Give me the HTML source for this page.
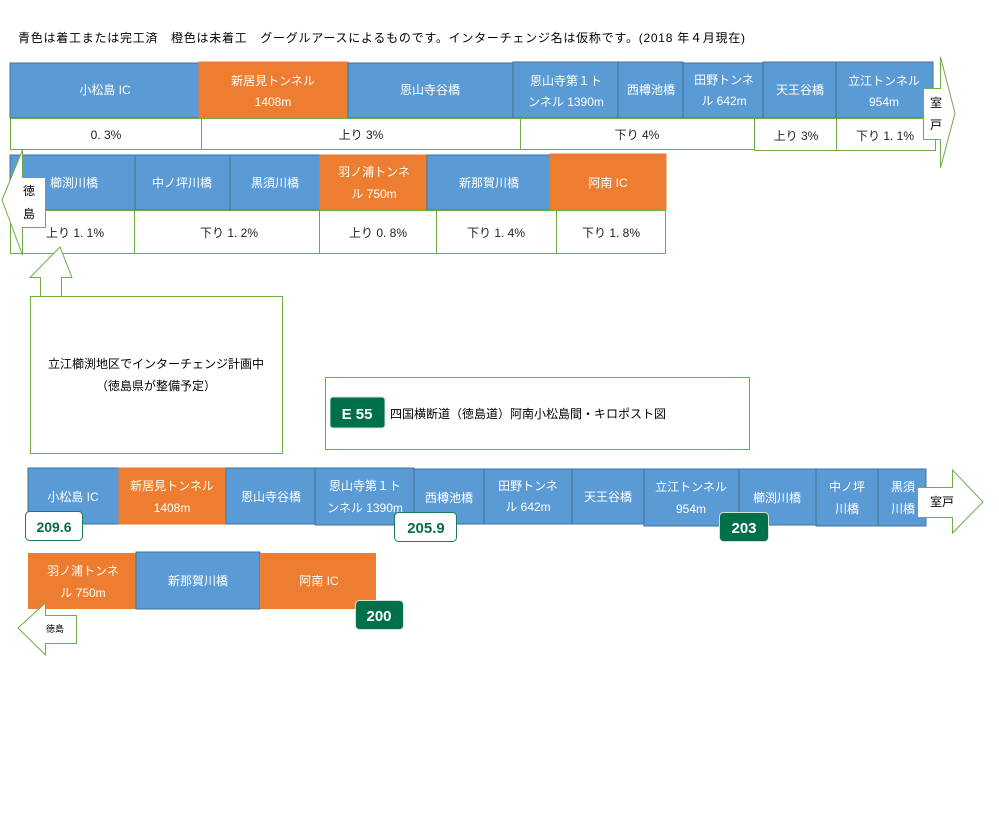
<!DOCTYPE html>
<html><head><meta charset="utf-8"><style>
html,body{margin:0;padding:0;background:#fff;width:999px;height:819px;overflow:hidden}
svg text{font-family:"Liberation Sans","Noto Sans CJK JP",sans-serif}
</style></head><body>
<svg width="999" height="819" viewBox="0 0 999 819" xmlns="http://www.w3.org/2000/svg">
<text x="18" y="42" font-size="12" fill="#000" textLength="727" lengthAdjust="spacing">青色は着工または完工済　橙色は未着工　グーグルアースによるものです。インターチェンジ名は仮称です。(2018 年４月現在)</text>

<!-- Row 1 -->
<g stroke="#41719c" stroke-width="1">
<rect x="10" y="63" width="189" height="55" fill="#5b9bd5"/>
<rect x="199" y="62" width="149" height="56" fill="#ed7d31" stroke="#ed7d31"/>
<rect x="348" y="63" width="165" height="55" fill="#5b9bd5"/>
<rect x="513" y="62" width="105" height="56" fill="#5b9bd5"/>
<rect x="618" y="62" width="65" height="56" fill="#5b9bd5"/>
<rect x="683" y="63" width="80" height="55" fill="#5b9bd5"/>
<rect x="763" y="62" width="73" height="56" fill="#5b9bd5"/>
<rect x="836" y="62" width="97" height="56" fill="#5b9bd5"/>
</g>
<g fill="#fff" font-size="12" text-anchor="middle">
<text x="105" y="94">小松島 IC</text>
<text x="273" y="85">新居見トンネル</text><text x="273" y="106">1408m</text>
<text x="430" y="94">恩山寺谷橋</text>
<text x="566" y="85">恩山寺第１ト</text><text x="566" y="106">ンネル 1390m</text>
<text x="651" y="94">西樽池橋</text>
<text x="724" y="84">田野トンネ</text><text x="724" y="105">ル 642m</text>
<text x="800" y="94">天王谷橋</text>
<text x="884" y="85">立江トンネル</text><text x="884" y="106">954m</text>
</g>
<g fill="#fff" stroke="#70ad47" stroke-width="1">
<rect x="10.5" y="118.5" width="191" height="31"/>
<rect x="201.5" y="118.5" width="319" height="31"/>
<rect x="520.5" y="118.5" width="234" height="31"/>
<rect x="754.5" y="118.5" width="82" height="32"/>
<rect x="836.5" y="118.5" width="99" height="32"/>
</g>
<g fill="#222" font-size="12" text-anchor="middle">
<text x="106" y="139">0. 3%</text>
<text x="361" y="139">上り 3%</text>
<text x="637" y="139">下り 4%</text>
<text x="796" y="140">上り 3%</text>
<text x="885" y="140">下り 1. 1%</text>
</g>
<path d="M923.5 88.5 H940.5 V57 L955 113 L940.5 168 V139.5 H923.5 Z" fill="#fff" stroke="#70ad47"/>
<text x="936" y="107" font-size="12" text-anchor="middle">室</text>
<text x="936" y="129" font-size="12" text-anchor="middle">戸</text>

<!-- Row 2 -->
<g stroke="#41719c">
<rect x="10" y="155" width="125" height="55" fill="#5b9bd5"/>
<rect x="135" y="155" width="95" height="55" fill="#5b9bd5"/>
<rect x="230" y="155" width="90" height="55" fill="#5b9bd5"/>
<rect x="320" y="155" width="107" height="55" fill="#ed7d31" stroke="#ed7d31"/>
<rect x="427" y="155" width="123" height="55" fill="#5b9bd5"/>
<rect x="550" y="154" width="116" height="56" fill="#ed7d31" stroke="#ed7d31"/>
</g>
<g fill="#fff" font-size="12" text-anchor="middle">
<text x="74" y="187">櫛渕川橋</text>
<text x="182" y="187">中ノ坪川橋</text>
<text x="275" y="187">黒須川橋</text>
<text x="374" y="176">羽ノ浦トンネ</text><text x="374" y="198">ル 750m</text>
<text x="489" y="187">新那賀川橋</text>
<text x="608" y="187">阿南 IC</text>
</g>
<g fill="#fff" stroke="#70ad47">
<rect x="10.5" y="210.5" width="124" height="43"/>
<rect x="134.5" y="210.5" width="185" height="43"/>
<rect x="319.5" y="210.5" width="117" height="43"/>
<rect x="436.5" y="210.5" width="120" height="43"/>
<rect x="556.5" y="210.5" width="109" height="43"/>
</g>
<g fill="#222" font-size="12" text-anchor="middle">
<text x="75" y="237">上り 1. 1%</text>
<text x="229" y="237">下り 1. 2%</text>
<text x="378" y="237">上り 0. 8%</text>
<text x="496" y="237">下り 1. 4%</text>
<text x="611" y="237">下り 1. 8%</text>
</g>
<path d="M45.5 177.5 H22.5 V150 L2 200 L22.5 255 V227.5 H45.5 Z" fill="#fff" stroke="#70ad47"/>
<text x="29" y="195" font-size="12" text-anchor="middle">徳</text>
<text x="29" y="218" font-size="12" text-anchor="middle">島</text>

<!-- Up arrow and note -->
<path d="M40.5 296.5 V277.5 H30 L60 247 L72 277.5 H61.5 V296.5" fill="#fff" stroke="#70ad47"/>
<rect x="30.5" y="296.5" width="252" height="157" fill="#fff" stroke="#70ad47"/>
<text x="156" y="368" font-size="12" text-anchor="middle">立江櫛渕地区でインターチェンジ計画中</text>
<text x="156" y="390" font-size="12" text-anchor="middle">（徳島県が整備予定）</text>

<rect x="325.5" y="377.5" width="424" height="72" fill="#fff" stroke="#70ad47"/>
<rect x="330" y="397" width="55" height="31" rx="3" fill="#00704a" stroke="#cfe6d4"/>
<text x="357" y="419" font-size="15" fill="#fff" text-anchor="middle" font-weight="bold">E 55</text>
<text x="390" y="418" font-size="12">四国横断道（徳島道）阿南小松島間・キロポスト図</text>

<!-- Row 3 -->
<g stroke="#41719c">
<rect x="28" y="468" width="91" height="56" fill="#5b9bd5"/>
<rect x="119" y="468" width="107" height="56" fill="#ed7d31" stroke="#ed7d31"/>
<rect x="226" y="468" width="89" height="56" fill="#5b9bd5"/>
<rect x="315" y="468" width="99" height="57" fill="#5b9bd5"/>
<rect x="414" y="469" width="70" height="55" fill="#5b9bd5"/>
<rect x="484" y="469" width="88" height="55" fill="#5b9bd5"/>
<rect x="572" y="469" width="72" height="55" fill="#5b9bd5"/>
<rect x="644" y="469" width="95" height="57" fill="#5b9bd5"/>
<rect x="739" y="469" width="77" height="56" fill="#5b9bd5"/>
<rect x="816" y="469" width="62" height="57" fill="#5b9bd5"/>
<rect x="878" y="469" width="48" height="57" fill="#5b9bd5"/>
</g>
<g fill="#fff" font-size="12" text-anchor="middle">
<text x="73" y="501">小松島 IC</text>
<text x="172" y="490">新居見トンネル</text><text x="172" y="512">1408m</text>
<text x="271" y="501">恩山寺谷橋</text>
<text x="365" y="490">恩山寺第１ト</text><text x="365" y="512">ンネル 1390m</text>
<text x="449" y="502">西樽池橋</text>
<text x="528" y="490">田野トンネ</text><text x="528" y="511">ル 642m</text>
<text x="608" y="501">天王谷橋</text>
<text x="691" y="491">立江トンネル</text><text x="691" y="513">954m</text>
<text x="777" y="502">櫛渕川橋</text>
<text x="847" y="491">中ノ坪</text><text x="847" y="513">川橋</text>
<text x="903" y="491">黒須</text><text x="903" y="513">川橋</text>
</g>
<path d="M917.5 487.5 H952.5 V470 L983 502 L952.5 533 V517.5 H917.5 Z" fill="#fff" stroke="#70ad47"/>
<text x="930" y="506" font-size="12">室戸</text>

<!-- Row 4 -->
<rect x="28" y="553" width="108" height="56" fill="#ed7d31"/>
<rect x="136" y="552" width="124" height="57" fill="#5b9bd5" stroke="#41719c"/>
<rect x="260" y="553" width="116" height="56" fill="#ed7d31"/>
<g fill="#fff" font-size="12" text-anchor="middle">
<text x="83" y="575">羽ノ浦トンネ</text><text x="83" y="597">ル 750m</text>
<text x="198" y="585">新那賀川橋</text>
<text x="319" y="585">阿南 IC</text>
</g>
<path d="M76.5 615.5 H45.5 V603 L18 628 L45.5 655 V643.5 H76.5 Z" fill="#fff" stroke="#70ad47"/>
<text x="46" y="632" font-size="9">徳島</text>

<!-- badges -->
<rect x="25.5" y="511.5" width="57" height="29" rx="4" fill="#fff" stroke="#1f7a55"/>
<text x="54" y="532" font-size="14" fill="#0a6a48" text-anchor="middle" font-weight="bold">209.6</text>
<rect x="394.5" y="512.5" width="62" height="29" rx="4" fill="#fff" stroke="#1f7a55"/>
<text x="426" y="533" font-size="15" fill="#0a6a48" text-anchor="middle" font-weight="bold">205.9</text>
<rect x="719.5" y="512.5" width="49" height="29" rx="4" fill="#00704a" stroke="#cfe6d4"/>
<text x="744" y="533" font-size="15" fill="#fff" text-anchor="middle" font-weight="bold">203</text>
<rect x="355.5" y="600.5" width="48" height="29" rx="4" fill="#00704a" stroke="#cfe6d4"/>
<text x="379" y="621" font-size="15" fill="#fff" text-anchor="middle" font-weight="bold">200</text>
</svg>
</body></html>
